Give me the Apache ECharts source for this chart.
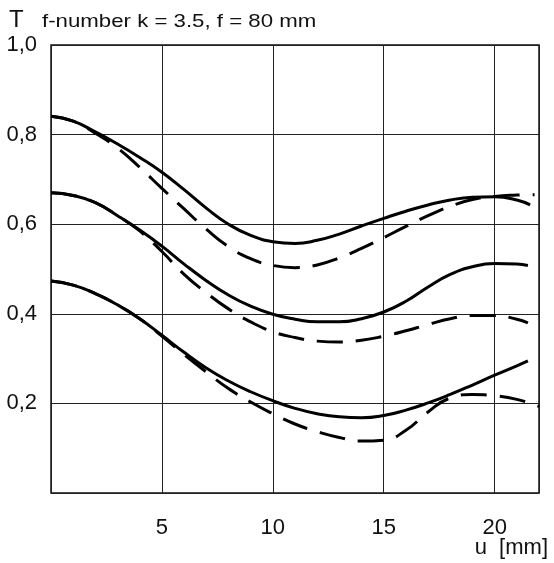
<!DOCTYPE html>
<html>
<head>
<meta charset="utf-8">
<script src="https://cdn.jsdelivr.net/npm/echarts@6/dist/echarts.min.js"></script>
<style>
  html, body { margin: 0; padding: 0; background: #fff; }
  #chart { width: 554px; height: 563px; }
</style>
</head>
<body>
<div id="chart"></div>
<script>
// u [mm] vs T
const topSolid = [[0,0.841],[1,0.830],[2,0.806],[3,0.779],[4,0.749],[5,0.716],[6,0.677],[7,0.636],[8,0.600],[9,0.575],[10,0.561],[11,0.557],[12,0.564],[13,0.578],[14,0.596],[15,0.613],[16,0.629],[17,0.643],[18,0.654],[19,0.660],[20,0.661],[21,0.654],[21.6,0.643]];
const topDashed = [[0,0.841],[1,0.830],[2,0.803],[3,0.770],[4,0.727],[5,0.680],[6,0.634],[7,0.589],[8,0.550],[9,0.523],[10,0.508],[11,0.503],[12,0.509],[13,0.525],[14,0.546],[15,0.570],[16,0.595],[17,0.619],[18,0.640],[19,0.655],[20,0.662],[21,0.665],[21.8,0.666]];
const midSolid = [[0,0.670],[1,0.664],[2,0.648],[3,0.619],[4,0.587],[5,0.551],[6,0.511],[7,0.474],[8,0.442],[9,0.417],[10,0.399],[11,0.388],[12,0.382],[13,0.382],[14,0.389],[15,0.404],[16,0.428],[17,0.460],[18,0.488],[19,0.505],[20,0.512],[21,0.511],[21.5,0.508]];
const midDashed = [[0,0.670],[1,0.664],[2,0.648],[3,0.619],[4,0.585],[5,0.539],[6,0.488],[7,0.447],[8,0.411],[9,0.382],[10,0.360],[11,0.347],[12,0.339],[13,0.337],[14,0.341],[15,0.350],[16,0.362],[17,0.376],[18,0.389],[19,0.396],[20,0.396],[21,0.388],[21.5,0.380]];
const lowSolid = [[0,0.473],[1,0.464],[2,0.445],[3,0.420],[4,0.389],[5,0.352],[6,0.314],[7,0.279],[8,0.250],[9,0.226],[10,0.206],[11,0.189],[12,0.177],[13,0.170],[14,0.168],[15,0.173],[16,0.185],[17,0.201],[18,0.220],[19,0.241],[20,0.263],[21,0.284],[21.5,0.295]];
const lowDashed = [[0,0.473],[1,0.464],[2,0.445],[3,0.420],[4,0.389],[5,0.350],[6,0.309],[7,0.270],[8,0.233],[9,0.203],[10,0.177],[11,0.154],[12,0.137],[13,0.124],[14,0.116],[15,0.118],[16,0.140],[17,0.181],[18,0.212],[19,0.220],[20,0.217],[21,0.209],[22,0.193]];

const xTicks = [5, 10, 15, 20];
const yTicks = ['0,2', '0,4', '0,6', '0,8', '1,0'];

const chart = echarts.init(document.getElementById('chart'), null, { renderer: 'canvas' });
const font = 'Liberation Sans, Arial, sans-serif';

const curve = (data, dashed) => ({
  type: 'line',
  data: data,
  smooth: 0.5,
  showSymbol: false,
  silent: true,
  lineStyle: {
    color: '#000',
    width: 3,
    type: dashed ? [26, 13] : 'solid',
    cap: 'butt'
  },
  z: 3
});

chart.setOption({
  animation: false,
  backgroundColor: '#fff',
  grid: {
    left: 51, top: 45, right: 15, bottom: 70,
    show: true, borderColor: '#111', borderWidth: 1.5, backgroundColor: 'transparent'
  },
  xAxis: {
    type: 'value', min: 0, max: 22, interval: 5,
    axisLine: { show: false }, axisTick: { show: false },
    splitLine: { show: true, lineStyle: { color: '#222', width: 1 } },
    axisLabel: {
      margin: 24, fontSize: 22, color: '#111', fontFamily: font,
      formatter: v => xTicks.includes(v) ? String(v) : ''
    }
  },
  yAxis: {
    type: 'value', min: 0, max: 1, interval: 0.2,
    axisLine: { show: false }, axisTick: { show: false },
    splitLine: { show: true, lineStyle: { color: '#222', width: 1 } },
    axisLabel: {
      margin: 14, fontSize: 22, color: '#111', fontFamily: font,
      formatter: v => {
        const i = Math.round(v / 0.2) - 1;
        return i >= 0 ? yTicks[i] : '';
      }
    }
  },
  graphic: [
    { type: 'text', left: 9, top: 8, style: { text: 'T', fontSize: 24, fill: '#111', fontFamily: font } },
    { type: 'text', x: 42, y: 12, scaleX: 1.17, style: { text: 'f-number k = 3.5, f = 80 mm', fontSize: 19, fill: '#111', fontFamily: font } },
    { type: 'text', right: 6, top: 537, style: { text: 'u  [mm]', fontSize: 22, fill: '#111', fontFamily: font } }
  ],
  series: [
    curve(topSolid, false), curve(topDashed, true),
    curve(midSolid, false), curve(midDashed, true),
    curve(lowSolid, false), curve(lowDashed, true)
  ]
});
</script>
</body>
</html>
